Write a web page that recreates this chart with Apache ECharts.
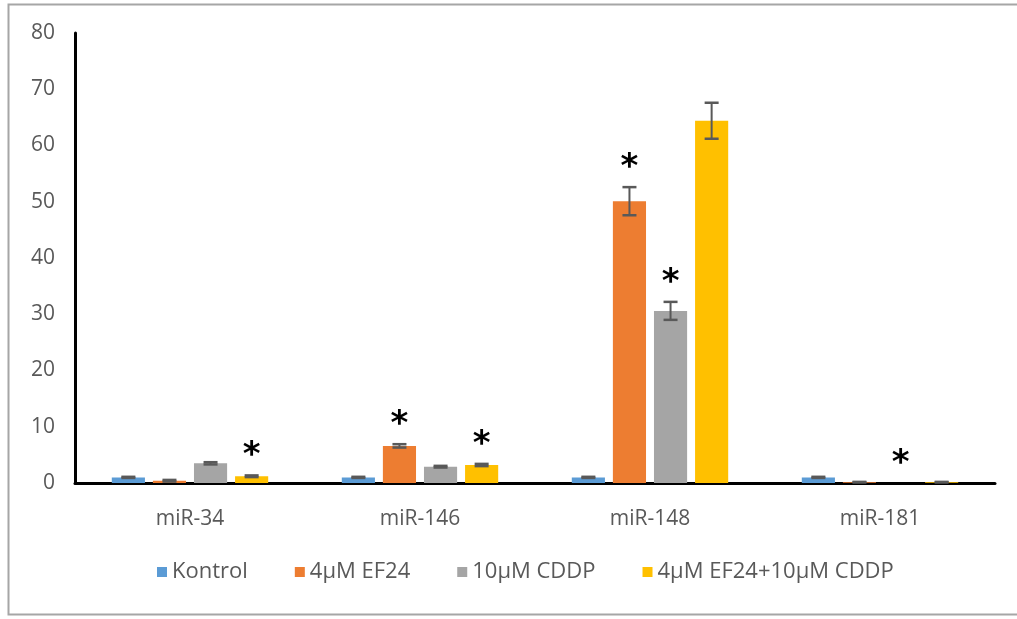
<!DOCTYPE html>
<html>
<head>
<meta charset="utf-8">
<script src="https://cdn.jsdelivr.net/npm/echarts@6/dist/echarts.min.js"></script>
<style>html,body{margin:0;padding:0;background:#fff}#c{width:1017px;height:619px}</style>
</head>
<body>
<div id="c"></div>
<script>
var categories = ['miR-34', 'miR-146', 'miR-148', 'miR-181'];
var seriesNames = ['Kontrol', '4µM EF24', '10µM CDDP', '4µM EF24+10µM CDDP'];
var kontrol = [1.0, 1.0, 1.0, 1.0];
var ef24 = [0.4, 6.6, 50.1, 0.15];
var cddp = [3.5, 2.9, 30.6, 0.02];
var combo = [1.2, 3.2, 64.4, 0.15];
var kontrolErr = [0.1, 0.1, 0.1, 0.1];
var ef24Err = [0.15, 0.3, 2.5, 0.05];
var cddpErr = [0.2, 0.15, 1.6, 0];
var comboErr = [0.15, 0.2, 3.2, 0.05];
var kontrolSig = [0, 0, 0, 0];
var ef24Sig = [0, 1, 1, 0];
var cddpSig = [0, 0, 1, 1];
var comboSig = [1, 1, 0, 0];
var yTicks = [0, 10, 20, 30, 40, 50, 60, 70, 80];

var colors = ['#5B9BD5', '#ED7D31', '#A5A5A5', '#FFC000'];
var values = [kontrol, ef24, cddp, combo];
var errs = [kontrolErr, ef24Err, cddpErr, comboErr];
var sigs = [kontrolSig, ef24Sig, cddpSig, comboSig];
var CAT_GAP = 0.32, BAR_GAP = 0.24, N = 4;

var chart = echarts.init(document.getElementById('c'));
var series = [];
values.forEach(function (v, i) {
  series.push({
    name: seriesNames[i], type: 'bar', data: v,
    itemStyle: { color: colors[i] },
    barCategoryGap: '32%', barGap: '24%'
  });
});
values.forEach(function (v, i) {
  series.push({
    name: 'err' + i, type: 'custom', z: 5,
    data: v.map(function (val, k) { return [k, val, errs[i][k], sigs[i][k]]; }),
    renderItem: function (params, api) {
      var k = api.value(0), val = api.value(1), e = api.value(2), s = api.value(3);
      var bw = api.size([1, 0])[0];
      var barW = bw * (1 - CAT_GAP) / (N + (N - 1) * BAR_GAP);
      var off = (i - (N - 1) / 2) * barW * (1 + BAR_GAP);
      var c = api.coord([k, val]);
      var top = api.coord([k, val + e]);
      var bot = api.coord([k, val - e]);
      var x = c[0] + off;
      var ch = [];
      var cap = 7;
      if (e > 0) {
        ch.push({ type: 'line', shape: { x1: x, y1: top[1], x2: x, y2: bot[1] }, style: { stroke: '#595959', lineWidth: 2 } });
        ch.push({ type: 'line', shape: { x1: x - cap, y1: top[1], x2: x + cap, y2: top[1] }, style: { stroke: '#595959', lineWidth: 2.5 } });
        ch.push({ type: 'line', shape: { x1: x - cap, y1: bot[1], x2: x + cap, y2: bot[1] }, style: { stroke: '#595959', lineWidth: 2.5 } });
      }
      if (s) {
        ch.push({ type: 'text', x: x, y: top[1] - 2, style: { text: '*', fill: '#000', font: 'bold 34px "DejaVu Sans"', align: 'center', verticalAlign: 'bottom' } });
      }
      return { type: 'group', children: ch };
    }
  });
});

chart.setOption({
  animation: false,
  backgroundColor: '#fff',
  textStyle: { fontFamily: 'Open Sans' },
  grid: { left: 75, right: 22, top: 33, bottom: 136, containLabel: false },
  legend: {
    data: seriesNames, bottom: 31, left: 152, icon: 'rect',
    itemWidth: 10, itemHeight: 10, itemGap: 47,
    textStyle: { color: '#595959', fontSize: 22, fontFamily: 'Open Sans' }
  },
  xAxis: {
    type: 'category', data: categories,
    axisLine: { lineStyle: { color: '#000', width: 3 } },
    axisTick: { show: false },
    axisLabel: { color: '#595959', fontSize: 21, margin: 26 }
  },
  yAxis: {
    type: 'value', min: 0, max: 80, interval: 10,
    axisLine: { show: true, lineStyle: { color: '#000', width: 3 } },
    axisTick: { show: false },
    splitLine: { show: false },
    axisLabel: { color: '#595959', fontSize: 21, margin: 20,
      customValues: yTicks }
  },
  graphic: [{
    type: 'rect', left: 6, top: 2, silent: true, z: -1,
    shape: { x: 0, y: 0, width: 1010, height: 610 },
    style: { fill: 'none', stroke: '#A6A6A6', lineWidth: 2 }
  }],
  series: series
});
</script>
</body>
</html>
